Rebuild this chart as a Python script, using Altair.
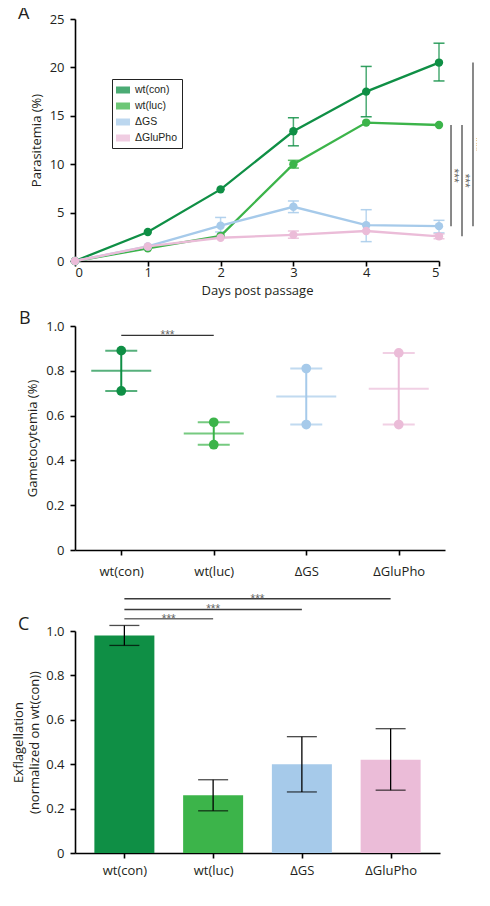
import altair as alt
import pandas as pd

# ---------------- data ----------------
GROUPS = ["wt(con)", "wt(luc)", "ΔGS", "ΔGluPho"]
COLORS = ["#0f8f45", "#3cb44a", "#a6caea", "#ebbcd8"]

DAYS = [0, 1, 2, 3, 4, 5]
CON_MEAN = [0, 3.0, 7.4, 13.4, 17.5, 20.5]
CON_LO = [0, 3.0, 7.4, 11.9, 14.9, 18.6]
CON_HI = [0, 3.0, 7.4, 14.8, 20.1, 22.5]
LUC_MEAN = [0, 1.3, 2.6, 10.0, 14.3, 14.05]
LUC_LO = [0, 1.3, 2.6, 9.6, 14.3, 14.05]
LUC_HI = [0, 1.3, 2.6, 10.4, 14.3, 14.05]
GS_MEAN = [0, 1.5, 3.65, 5.6, 3.7, 3.6]
GS_LO = [0, 1.5, 3.0, 5.0, 2.0, 2.9]
GS_HI = [0, 1.5, 4.5, 6.2, 5.3, 4.2]
GLU_MEAN = [0, 1.5, 2.4, 2.7, 3.1, 2.55]
GLU_LO = [0, 1.5, 2.4, 2.35, 3.1, 2.3]
GLU_HI = [0, 1.5, 2.4, 3.1, 3.1, 2.8]

# significance brackets of panel A (x in days, y in %)
SIG_A_X = [5.165, 5.316, 5.467, 5.604]
SIG_A_Y1 = [14.05, 14.05, 20.5, 20.5]
SIG_A_Y2 = [3.6, 2.55, 3.6, 2.55]
SIG_A_TX = [5.21, 5.36, 5.51, 5.65]

# panel B: gametocytemia, two replicates per group
GAM_GROUP = ["wt(con)", "wt(con)", "wt(luc)", "wt(luc)", "ΔGS", "ΔGS", "ΔGluPho", "ΔGluPho"]
GAM_VALUES = [0.89, 0.71, 0.57, 0.47, 0.81, 0.56, 0.88, 0.56]
GAM_MEAN = [0.80, 0.52, 0.685, 0.72]
SIG_B = [(0, 1, 0.958)]

# panel C: exflagellation
EXF_MEAN = [0.98, 0.26, 0.40, 0.42]
EXF_LO = [0.935, 0.19, 0.275, 0.283]
EXF_HI = [1.025, 0.33, 0.524, 0.56]
SIG_C = [(0, 1, 1.055), (0, 2, 1.097), (0, 3, 1.145)]
SIG_C_COLOR = ["#6d6d6d", "#3a3a3a", "#3a3a3a"]

FONT = "Open Sans"
color_scale = alt.Scale(domain=GROUPS, range=COLORS)
label_expr_cat = "['wt(con)','wt(luc)','ΔGS','ΔGluPho'][datum.value]"
label_expr_dec = "datum.value == 0 ? '0' : format(datum.value, '.1f')"


def panel_title(letter, dx, dy):
    return alt.TitleParams(letter, anchor="start", frame="group", fontSize=18, font=FONT,
                           fontWeight="normal", dx=dx, dy=dy, offset=0, baseline="alphabetic",
                           color="#231f20")


# ---------------- panel A ----------------
rows = []
for name, m, lo, hi in [("wt(con)", CON_MEAN, CON_LO, CON_HI),
                        ("wt(luc)", LUC_MEAN, LUC_LO, LUC_HI),
                        ("ΔGS", GS_MEAN, GS_LO, GS_HI),
                        ("ΔGluPho", GLU_MEAN, GLU_LO, GLU_HI)]:
    for d, v, l, h in zip(DAYS, m, lo, hi):
        rows.append({"group": name, "day": d, "val": v, "lo": l, "hi": h})
dfA = pd.DataFrame(rows)
dfA_err = dfA[dfA["hi"] > dfA["lo"]]
dfA_sig = pd.DataFrame({"x": SIG_A_X, "y1": SIG_A_Y1, "y2": SIG_A_Y2, "tx": SIG_A_TX,
                        "ty": [(a + b) / 2 for a, b in zip(SIG_A_Y1, SIG_A_Y2)],
                        "t": ["***"] * 4})

xA = alt.X("day:Q", scale=alt.Scale(domain=[0, 5], nice=False),
           axis=alt.Axis(values=DAYS, title="Days post passage", format="d",
                         labelPadding=0, titlePadding=5))
yA_scale = alt.Scale(domain=[0, 25], nice=False)
yA_axis = alt.Axis(values=[0, 5, 10, 15, 20, 25], title="Parasitemia (%)", titlePadding=6)

legendA = alt.Legend(orient="none", legendX=37, legendY=60, title=None,
                     symbolType="M-1,-0.5L1,-0.5L1,0.5L-1,0.5Z", symbolSize=196,
                     symbolStrokeWidth=0, labelFont="Liberation Sans", labelFontSize=10.5,
                     labelColor="#231f20", strokeColor="#222", fillColor="white",
                     padding=4, rowPadding=3, labelOffset=5)
colA = alt.Color("group:N", scale=color_scale, legend=legendA, sort=GROUPS)

errA = alt.Chart(dfA_err).mark_rule(strokeWidth=1.5, opacity=0.75).encode(
    x=xA, y=alt.Y("lo:Q", scale=yA_scale, axis=yA_axis), y2="hi:Q", color=colA)
capA_lo = alt.Chart(dfA_err).mark_tick(orient="horizontal", size=11, thickness=1.5, opacity=0.85).encode(
    x=xA, y=alt.Y("lo:Q", scale=yA_scale, axis=yA_axis), color=colA)
capA_hi = alt.Chart(dfA_err).mark_tick(orient="horizontal", size=11, thickness=1.5, opacity=0.85).encode(
    x=xA, y=alt.Y("hi:Q", scale=yA_scale, axis=yA_axis), color=colA)
lineA = alt.Chart(dfA).mark_line(strokeWidth=2.3).encode(
    x=xA, y=alt.Y("val:Q", scale=yA_scale, axis=yA_axis), color=colA, order="day:Q")
ptsA = alt.Chart(dfA).mark_circle(size=70, opacity=1).encode(
    x=xA, y=alt.Y("val:Q", scale=yA_scale, axis=yA_axis), color=colA)
sigA = alt.Chart(dfA_sig).mark_rule(color="#4a4a4a", strokeWidth=1.3).encode(
    x="x:Q", y="y1:Q", y2="y2:Q")
sigA_t = alt.Chart(dfA_sig).mark_text(angle=90, font="Liberation Sans", fontSize=12,
                                      color="#666", baseline="middle", align="center").encode(
    x="tx:Q", y="ty:Q", text="t:N")

panelA = alt.layer(errA, capA_lo, capA_hi, lineA, ptsA, sigA, sigA_t).properties(
    width=364, height=242, title=panel_title("A", -57, 24))

# ---------------- panel B ----------------
idx = {g: i for i, g in enumerate(GROUPS)}
dfB = pd.DataFrame({"group": GAM_GROUP, "i": [idx[g] for g in GAM_GROUP], "val": GAM_VALUES})
dfB_mean = pd.DataFrame({"group": GROUPS, "i": list(range(4)), "mean": GAM_MEAN,
                         "lo": [min(v for g, v in zip(GAM_GROUP, GAM_VALUES) if g == k) for k in GROUPS],
                         "hi": [max(v for g, v in zip(GAM_GROUP, GAM_VALUES) if g == k) for k in GROUPS]})
dfB_sig = pd.DataFrame({"x1": [s[0] for s in SIG_B], "x2": [s[1] for s in SIG_B],
                        "y": [s[2] for s in SIG_B], "xm": [(s[0] + s[1]) / 2 for s in SIG_B],
                        "t": ["***"] * len(SIG_B)})

xB = alt.X("i:Q", scale=alt.Scale(domain=[-0.5, 3.5], nice=False),
           axis=alt.Axis(values=[0, 1, 2, 3], labelExpr=label_expr_cat, title=None, labelPadding=10))
yB_scale = alt.Scale(domain=[0, 1], nice=False)
yB_axis = alt.Axis(values=[0, 0.2, 0.4, 0.6, 0.8, 1.0], labelExpr=label_expr_dec,
                   title="Gametocytemia (%)", titlePadding=6)
colB = alt.Color("group:N", scale=color_scale, legend=None)

rangeB = alt.Chart(dfB_mean).mark_rule(strokeWidth=2).encode(
    x=xB, y=alt.Y("lo:Q", scale=yB_scale, axis=yB_axis), y2="hi:Q", color=colB)
meanB = alt.Chart(dfB_mean).mark_tick(orient="horizontal", size=60, thickness=2).encode(
    x=xB, y=alt.Y("mean:Q", scale=yB_scale, axis=yB_axis), color=colB)
capB = alt.Chart(dfB).mark_tick(orient="horizontal", size=32, thickness=2).encode(
    x=xB, y=alt.Y("val:Q", scale=yB_scale, axis=yB_axis), color=colB)
ptsB = alt.Chart(dfB).mark_circle(size=95, opacity=1).encode(
    x=xB, y=alt.Y("val:Q", scale=yB_scale, axis=yB_axis), color=colB)
sigB = alt.Chart(dfB_sig).mark_rule(color="#333", strokeWidth=1.2).encode(
    x="x1:Q", x2="x2:Q", y="y:Q")
sigB_t = alt.Chart(dfB_sig).mark_text(font="Liberation Sans", fontSize=12, color="#666",
                                      baseline="middle", align="center").encode(
    x="xm:Q", y="y:Q", text="t:N")

panelB = alt.layer(rangeB, meanB, capB, ptsB, sigB, sigB_t).properties(
    width=370, height=224, title=panel_title("B", -56, 22))

# ---------------- panel C ----------------
dfC = pd.DataFrame({"group": GROUPS, "i": list(range(4)), "val": EXF_MEAN,
                    "lo": EXF_LO, "hi": EXF_HI})
dfC_sig = pd.DataFrame({"x1": [s[0] for s in SIG_C], "x2": [s[1] for s in SIG_C],
                        "y": [s[2] for s in SIG_C], "xm": [(s[0] + s[1]) / 2 for s in SIG_C],
                        "c": SIG_C_COLOR, "t": ["***"] * len(SIG_C)})

xC = alt.X("i:Q", scale=alt.Scale(domain=[-0.5, 3.5], nice=False),
           axis=alt.Axis(values=[0, 1, 2, 3], labelExpr=label_expr_cat, title=None, labelPadding=6))
yC_scale = alt.Scale(domain=[0, 1], nice=False)
yC_axis = alt.Axis(values=[0, 0.2, 0.4, 0.6, 0.8, 1.0], labelExpr=label_expr_dec,
                   title=["Exflagellation", "(normalized on wt(con))"], titleLineHeight=16,
                   titlePadding=4)

barsC = alt.Chart(dfC).mark_bar(size=60).encode(
    x=xC, y=alt.Y("val:Q", scale=yC_scale, axis=yC_axis),
    color=alt.Color("group:N", scale=color_scale, legend=None))
errC = alt.Chart(dfC).mark_rule(color="black", strokeWidth=1.3).encode(
    x=xC, y=alt.Y("lo:Q", scale=yC_scale, axis=yC_axis), y2="hi:Q")
capC_lo = alt.Chart(dfC).mark_tick(orient="horizontal", size=30, thickness=1.3, color="black").encode(
    x=xC, y=alt.Y("lo:Q", scale=yC_scale, axis=yC_axis))
capC_hi = alt.Chart(dfC).mark_tick(orient="horizontal", size=30, thickness=1.3, color="black").encode(
    x=xC, y=alt.Y("hi:Q", scale=yC_scale, axis=yC_axis))
sigC = alt.Chart(dfC_sig).mark_rule(strokeWidth=1.4).encode(
    x="x1:Q", x2="x2:Q", y="y:Q", color=alt.Color("c:N", scale=None))
sigC_t = alt.Chart(dfC_sig).mark_text(font="Liberation Sans", fontSize=12, color="#666",
                                      baseline="middle", align="center").encode(
    x="xm:Q", y="y:Q", text="t:N")

panelC = alt.layer(barsC, errC, capC_lo, capC_hi, sigC, sigC_t).properties(
    width=365, height=222, title=panel_title("C", -57, 55))

top = alt.vconcat(panelA, panelB, spacing=13).resolve_scale(color="independent")
chart = alt.vconcat(top, panelC, spacing=14).resolve_scale(color="independent").properties(
    padding={"left": 4, "top": -3, "right": -16, "bottom": 0}
).configure_view(stroke=None).configure_axis(
    domainColor="black", domainWidth=1.6, tickColor="black", tickWidth=1.6, tickSize=5,
    labelColor="#231f20", labelFont=FONT, labelFontSize=13, labelPadding=6,
    titleFont=FONT, titleFontSize=13, titleFontWeight="normal", titleColor="#231f20",
    grid=False, titlePadding=9
)

chart.save("out.html", embed_options={"renderer": "svg", "actions": False})
